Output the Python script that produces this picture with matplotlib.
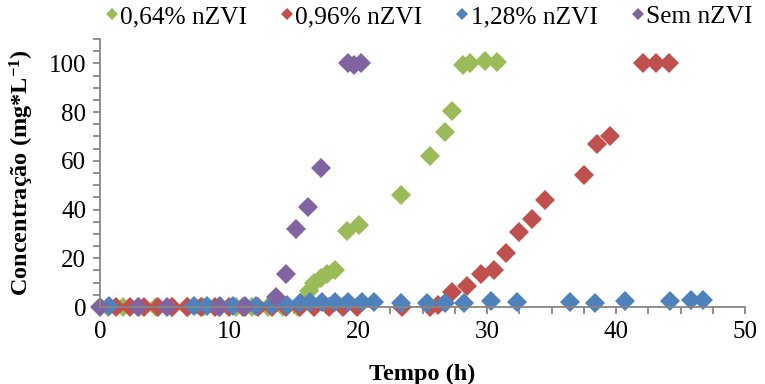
import numpy as np
import matplotlib.pyplot as plt
from matplotlib.ticker import MultipleLocator

plt.rcParams['font.family'] = ['Liberation Serif', 'DejaVu Serif']

# 0,64% nZVI
t_064 = [0.6, 1.8, 3.0, 4.3, 5.6, 6.8, 8.0, 9.3, 10.5, 11.8, 13.0, 14.2, 15.3,
         15.8, 16.2, 16.6, 17.1, 17.6, 18.2, 19.1, 20.1, 23.3, 25.6, 26.7, 27.3,
         28.1, 28.7, 29.8, 30.8]
c_064 = [0, 0, 0, 0, 0, 0, 0, 0, 0, 0, 0, 0, 0,
         3, 6.5, 10, 12, 13.5, 15, 31, 33.5, 46, 62, 72, 80.5,
         99.5, 100, 101, 100.5]

# 0,96% nZVI
t_096 = [1.2, 2.3, 3.4, 4.5, 5.6, 6.7, 7.8, 8.9, 10.0, 11.1, 12.2, 13.3, 14.4,
         15.5, 16.6, 17.7, 18.8, 19.9, 23.4, 25.6, 26.2, 27.3, 28.4, 29.5, 30.5,
         31.5, 32.5, 33.5, 34.5, 37.5, 38.5, 39.5, 42.1, 43.1, 44.1]
c_096 = [0, 0, 0, 0, 0, 0, 0, 0, 0, 0, 0, 0, 0,
         0, 0, 0, 0, 0, 0, 0, 1, 6, 8.6, 13.5, 15,
         22, 30.6, 36, 44, 54.3, 67, 70, 100, 100, 100]

# 1,28% nZVI
t_128 = [0.7, 7.3, 8.3, 9.3, 10.3, 11.2, 12.1, 13.3, 14.5, 15.5, 16.3, 17.2,
         18.2, 19.2, 20.3, 21.2, 23.3, 25.3, 26.7, 28.2, 30.3, 32.3, 36.4,
         38.4, 40.7, 44.2, 45.8, 46.7]
c_128 = [0.5, 0.5, 0.5, 0.5, 0.5, 0.5, 0.5, 1, 1, 1.5, 2, 2,
         2, 2, 2, 2, 1.5, 1.5, 1.5, 1.5, 2.5, 2, 2,
         1.5, 2.5, 2.5, 3, 3]

# Sem nZVI
t_sem = [0, 2.9, 5.2, 9.2, 11.2, 13.6, 14.4, 15.2, 16.1, 17.1, 19.2, 19.7, 20.2]
c_sem = [0, 0, 0, 0, 0, 4, 13.5, 32, 41, 57, 100, 99.5, 100]

series = [
    ('0,64% nZVI', t_064, c_064, '#9BBB59'),
    ('0,96% nZVI', t_096, c_096, '#C0504D'),
    ('1,28% nZVI', t_128, c_128, '#4F81BD'),
    ('Sem nZVI', t_sem, c_sem, '#8064A2'),
]

fig = plt.figure(figsize=(7.65, 3.84), dpi=100)
ax = fig.add_axes([0.131, 0.2005, 0.843, 0.698])

for name, t, c, col in series:
    ax.plot(t, c, linestyle='none', marker='D', markersize=10.2,
            color=col, markeredgewidth=0, label=name, clip_on=False)

ax.set_xlim(0, 50)
ax.set_ylim(0, 110)
ax.xaxis.set_major_locator(MultipleLocator(10))
ax.xaxis.set_minor_locator(MultipleLocator(2.5))
ax.yaxis.set_major_locator(MultipleLocator(20))
ax.yaxis.set_minor_locator(MultipleLocator(5))
ax.set_yticks([0, 20, 40, 60, 80, 100])

for s in ['top', 'right']:
    ax.spines[s].set_visible(False)
for s in ['left', 'bottom']:
    ax.spines[s].set_color('#868686')
    ax.spines[s].set_linewidth(1.3)

ax.tick_params(which='both', direction='out', length=5, width=1.3,
               color='#868686', labelsize=18, pad=5)

ax.set_xlabel('Tempo (h)', fontsize=17.5, fontweight='bold', labelpad=15)
ax.set_ylabel('Concentração (mg*L$\\mathregular{^{-1}}$)', fontsize=17.5,
              fontweight='bold', labelpad=9)

leg = fig.legend(loc='upper center', bbox_to_anchor=(0.561, 1.045), ncol=4,
                 frameon=False, fontsize=18.3, markerscale=0.55,
                 handlelength=0.45, handletextpad=0.1, columnspacing=1.35)

fig.savefig('out.png', dpi=100)
